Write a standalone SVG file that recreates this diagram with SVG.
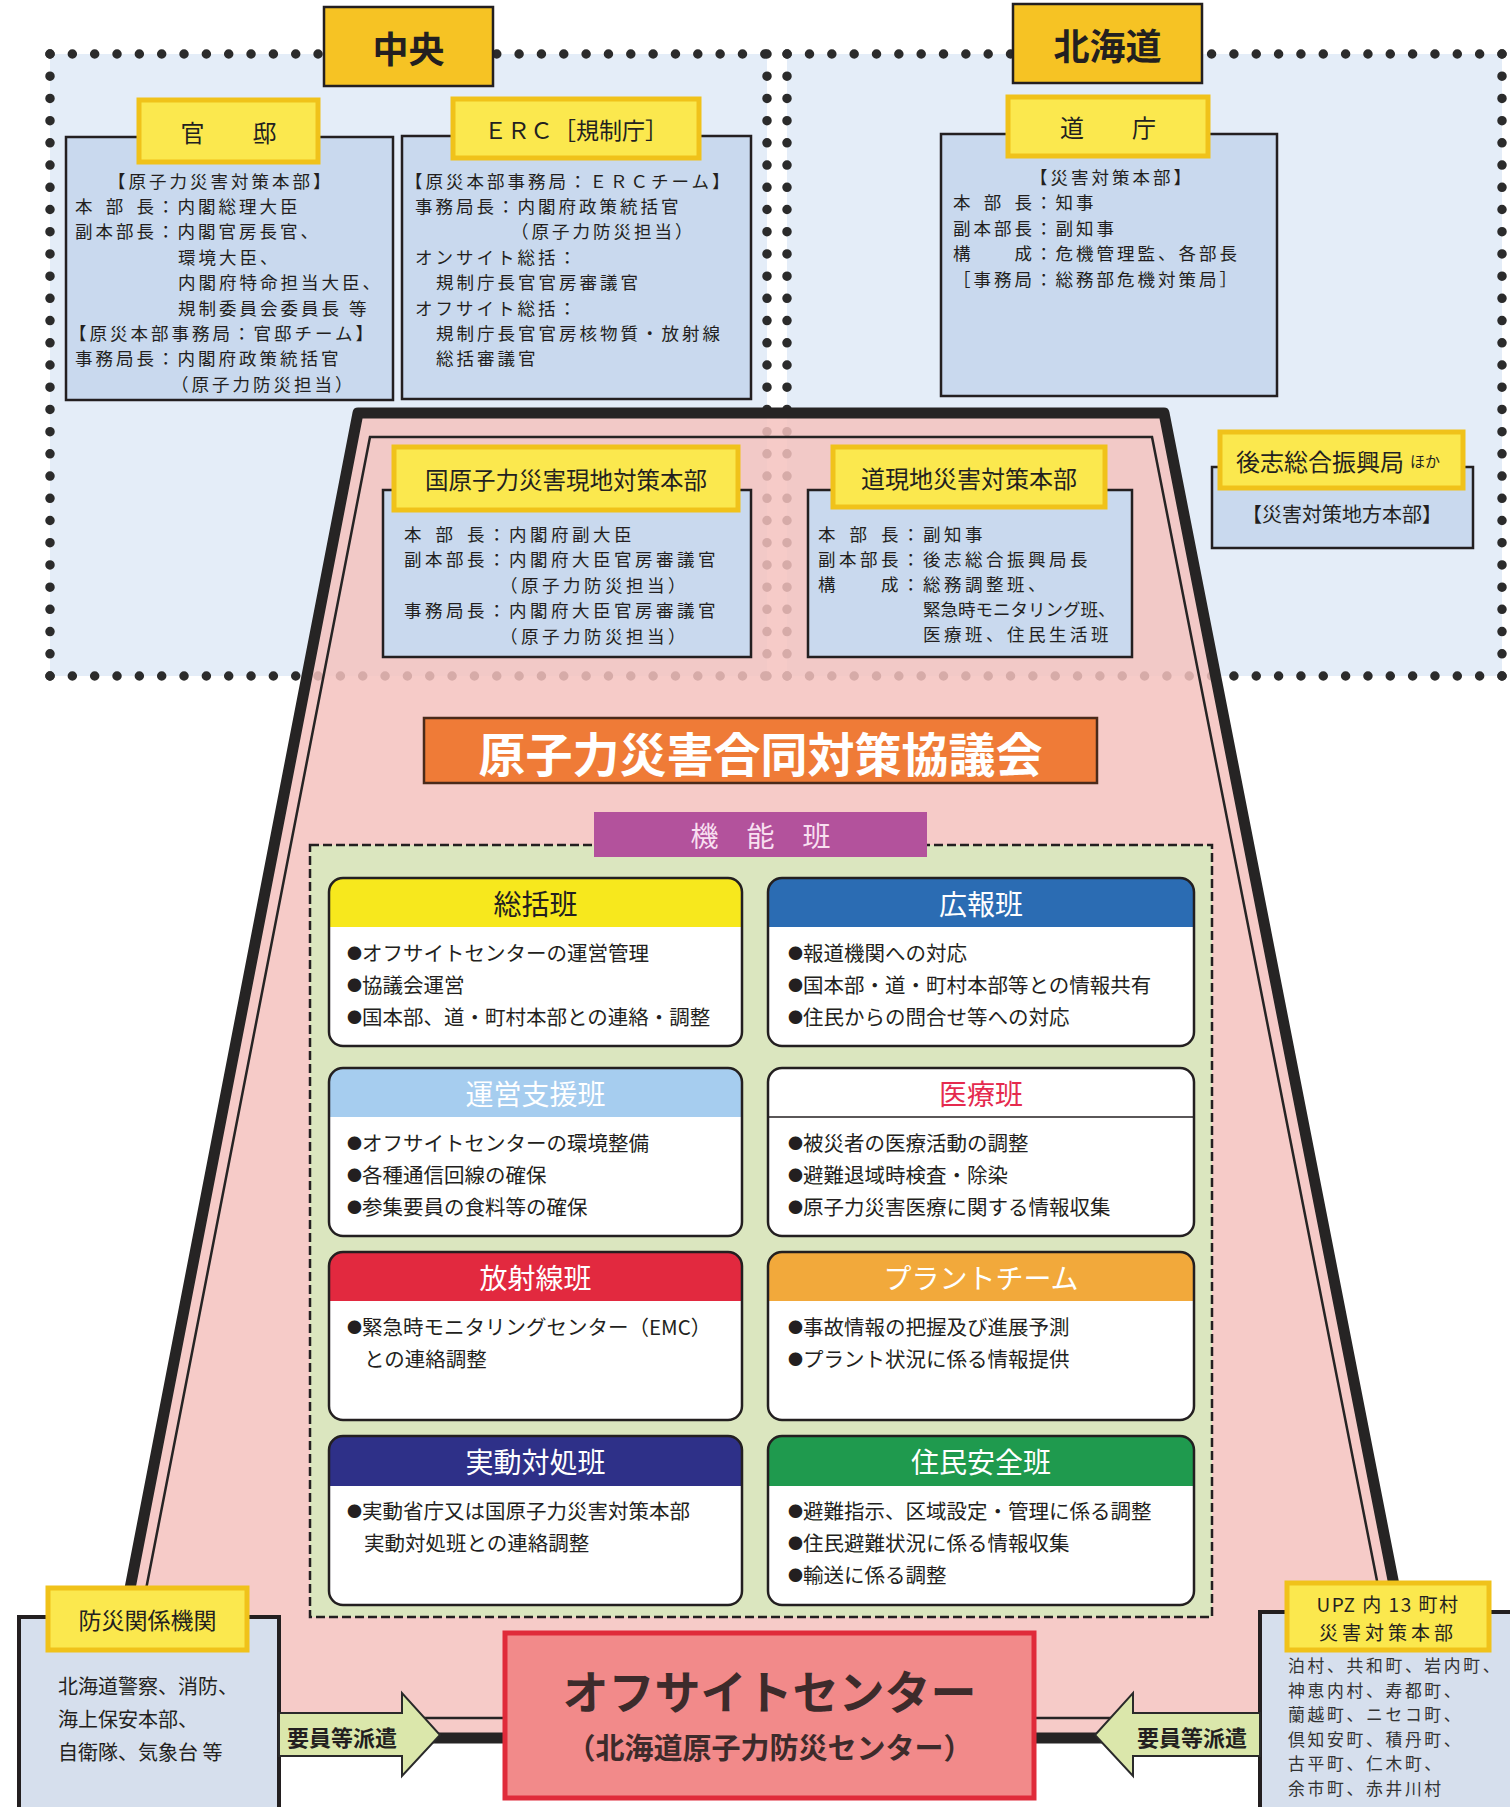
<svg xmlns="http://www.w3.org/2000/svg" width="1510" height="1807" viewBox="0 0 1510 1807">
<style>
text{font-family:"Noto Sans CJK JP","Noto Sans",sans-serif;fill:#231f20;dominant-baseline:central}
.c{text-anchor:middle}
.s1{font-size:17.5px;letter-spacing:3px}
.s2{font-size:17.5px;letter-spacing:3.5px}
.s3{font-size:16.8px;letter-spacing:2.7px;fill:#333}
.dot{stroke:#2b2b2b;stroke-width:9.5;stroke-linecap:round;fill:none}
.lbl{fill:#fbe84e;stroke:#f0c21a;stroke-width:5}
.bx{fill:#c9d9ee;stroke:#231f20;stroke-width:2.5}
.bx2{fill:#d6dfed;stroke:#231f20;stroke-width:4}
.big{fill:#f6c324;stroke:#231f20;stroke-width:2.5}
.card{fill:#fff}
.cardo{fill:none;stroke:#231f20;stroke-width:2.5}
.ht{font-size:28px;text-anchor:middle;fill:#fff}
.bt{font-size:20.5px}
.bu{font-size:15px}
.arrow{fill:#dbe7ab;stroke:#2a2a2a;stroke-width:2}
.at{font-size:22px;font-weight:700;text-anchor:middle}
</style>

<g id="regions">
<rect x="50" y="54" width="717" height="622" fill="#e4edf8"/>
<rect x="787" y="54" width="715" height="622" fill="#e4edf8"/>
<line class="dot" x1="50" y1="54" x2="1502" y2="54" stroke-dasharray="0 22.338"/>
<line class="dot" x1="50" y1="676" x2="1502" y2="676" stroke-dasharray="0 22.338"/>
<line class="dot" x1="50" y1="54" x2="50" y2="676" stroke-dasharray="0 22.214"/>
<line class="dot" x1="767" y1="54" x2="767" y2="676" stroke-dasharray="0 22.214"/>
<line class="dot" x1="787" y1="54" x2="787" y2="676" stroke-dasharray="0 22.214"/>
<line class="dot" x1="1502" y1="54" x2="1502" y2="676" stroke-dasharray="0 22.214"/>
</g>

<g id="trapezoid">
<path d="M358 413 L1164 413 L1424 1738 L101 1738 Z" fill="#f4c2be" fill-opacity="0.85"/>
<path d="M358 413 L1164 413 L1424 1738 L101 1738 Z" fill="none" stroke="#262424" stroke-width="11" stroke-linejoin="round"/>
<path d="M370 437 L1152 437 L1404 1718 L121 1718 Z" fill="none" stroke="#262424" stroke-width="2.5"/>
</g>

<g id="chuo">
<rect class="big" x="324" y="7" width="169" height="79"/>
<text class="c" x="408.5" y="46.5" font-size="36" font-weight="700">中央</text>
</g>

<g id="hokkaido">
<rect class="big" x="1013" y="4" width="189" height="79"/>
<text class="c" x="1107.5" y="43.5" font-size="36" font-weight="700">北海道</text>
</g>

<g id="kantei">
<rect class="bx" x="66" y="137" width="327" height="263"/>
<rect class="lbl" x="139" y="100" width="179" height="62"/>
<text class="c" x="228.5" y="131" font-size="24">官　　邸</text>
<text class="s1" x="108" y="180">【原子力災害対策本部】</text>
<text class="s1" x="75 95.5 105.75 126.25 136.5 157" y="205.4">本 部 長：内閣総理大臣</text>
<text class="s1" x="75" y="230.8">副本部長：内閣官房長官、</text>
<text class="s1" x="178" y="256.2">環境大臣、</text>
<text class="s1" x="178" y="281.6">内閣府特命担当大臣、</text>
<text class="s1" x="178" y="307">規制委員会委員長 等</text>
<text class="s1" x="69" y="332.4">【原災本部事務局：官邸チーム】</text>
<text class="s1" x="75" y="357.8">事務局長：内閣府政策統括官</text>
<text class="s1" x="171" y="383.2">（原子力防災担当）</text>
</g>

<g id="erc">
<rect class="bx" x="402" y="136" width="349" height="263"/>
<rect class="lbl" x="453" y="99" width="246" height="59"/>
<text class="c" x="576" y="128.5" font-size="23">ＥＲＣ［規制庁］</text>
<text class="s1" x="405" y="180">【原災本部事務局：ＥＲＣチーム】</text>
<text class="s1" x="415" y="205.4">事務局長：内閣府政策統括官</text>
<text class="s1" x="511" y="230.8">（原子力防災担当）</text>
<text class="s1" x="415" y="256.2">オンサイト総括：</text>
<text class="s1" x="436" y="281.6">規制庁長官官房審議官</text>
<text class="s1" x="415" y="307">オフサイト総括：</text>
<text class="s1" x="436" y="332.4">規制庁長官官房核物質・放射線</text>
<text class="s1" x="436" y="357.8">総括審議官</text>
</g>

<g id="docho">
<rect class="bx" x="941" y="134" width="336" height="262"/>
<rect class="lbl" x="1008" y="97" width="200" height="59"/>
<text class="c" x="1108" y="126.5" font-size="24">道　　庁</text>
<text class="s1 c" x="1112" y="176">【災害対策本部】</text>
<text class="s1" x="953 973.5 983.75 1004.25 1014.5 1035" y="201.5">本 部 長：知事</text>
<text class="s1" x="953" y="227">副本部長：副知事</text>
<text class="s1" x="953" y="252.5">構　　成：危機管理監、各部長</text>
<text class="s1" x="953" y="278">［事務局：総務部危機対策局］</text>
</g>

<g id="shiribeshi">
<rect class="bx" x="1212" y="467" width="261" height="81"/>
<rect class="lbl" x="1220" y="432" width="243" height="56"/>
<text x="1236" y="460" font-size="24">後志総合振興局<tspan font-size="15" dx="6">ほか</tspan></text>
<text class="c" x="1342" y="513" font-size="20">【災害対策地方本部】</text>
</g>

<g id="kuni-genchi">
<rect class="bx" x="383" y="490" width="368" height="167"/>
<rect class="lbl" x="394" y="447" width="344" height="63"/>
<text class="c" x="566" y="478.5" font-size="23.5">国原子力災害現地対策本部</text>
<text class="s2" x="404 425 435.5 456.5 467 488" y="533">本 部 長：内閣府副大臣</text>
<text class="s2" x="404" y="558.5">副本部長：内閣府大臣官房審議官</text>
<text class="s2" x="500" y="584">（原子力防災担当）</text>
<text class="s2" x="404" y="609.5">事務局長：内閣府大臣官房審議官</text>
<text class="s2" x="500" y="635">（原子力防災担当）</text>
</g>

<g id="do-genchi">
<rect class="bx" x="808" y="490" width="324" height="167"/>
<rect class="lbl" x="833" y="447" width="272" height="60"/>
<text class="c" x="969" y="477" font-size="24">道現地災害対策本部</text>
<text class="s2" x="818 839 849.5 870.5 881 902" y="533">本 部 長：副知事</text>
<text class="s2" x="818" y="558">副本部長：後志総合振興局長</text>
<text class="s2" x="818" y="583">構　　成：総務調整班、</text>
<text x="923" y="608" font-size="17.5">緊急時モニタリング班、</text>
<text class="s2" x="923" y="633">医療班、住民生活班</text>
</g>

<g id="kyogikai">
<rect x="424" y="718" width="673" height="65" fill="#ef7b37" stroke="#4a2a1a" stroke-width="2.5"/>
<text class="c" x="760.5" y="751" font-size="47" font-weight="700" style="fill:#fff">原子力災害合同対策協議会</text>
</g>

<g id="kinohan">
<rect x="310" y="845" width="902" height="772" fill="#dbe6bf" stroke="#231f20" stroke-width="2.5" stroke-dasharray="9 4"/>
<rect x="594" y="812" width="333" height="45" fill="#b3529c"/>
<text class="c" x="760.5" y="835" font-size="28" style="fill:#f8dff0">機　能　班</text>
</g>

<g id="soukatsu">
<rect class="card" x="329" y="878" width="413" height="168" rx="14"/>
<path d="M329 927V892Q329 878 343 878H728Q742 878 742 892V927Z" fill="#f7e81d"/>
<rect class="cardo" x="329" y="878" width="413" height="168" rx="14"/>
<text class="ht" x="535.5" y="903" style="fill:#231f20">総括班</text>
<text class="bt" x="347" y="952"><tspan class="bu">●</tspan>オフサイトセンターの運営管理</text>
<text class="bt" x="347" y="984"><tspan class="bu">●</tspan>協議会運営</text>
<text class="bt" x="347" y="1016"><tspan class="bu">●</tspan>国本部、道・町村本部との連絡・調整</text>
</g>

<g id="kouhou">
<rect class="card" x="768" y="878" width="426" height="168" rx="14"/>
<path d="M768 927V892Q768 878 782 878H1180Q1194 878 1194 892V927Z" fill="#2b6cb3"/>
<rect class="cardo" x="768" y="878" width="426" height="168" rx="14"/>
<text class="ht" x="981" y="903">広報班</text>
<text class="bt" x="788" y="952"><tspan class="bu">●</tspan>報道機関への対応</text>
<text class="bt" x="788" y="984"><tspan class="bu">●</tspan>国本部・道・町村本部等との情報共有</text>
<text class="bt" x="788" y="1016"><tspan class="bu">●</tspan>住民からの問合せ等への対応</text>
</g>

<g id="unei">
<rect class="card" x="329" y="1068" width="413" height="168" rx="14"/>
<path d="M329 1117V1082Q329 1068 343 1068H728Q742 1068 742 1082V1117Z" fill="#a6cdef"/>
<rect class="cardo" x="329" y="1068" width="413" height="168" rx="14"/>
<text class="ht" x="535.5" y="1093">運営支援班</text>
<text class="bt" x="347" y="1142"><tspan class="bu">●</tspan>オフサイトセンターの環境整備</text>
<text class="bt" x="347" y="1174"><tspan class="bu">●</tspan>各種通信回線の確保</text>
<text class="bt" x="347" y="1206"><tspan class="bu">●</tspan>参集要員の食料等の確保</text>
</g>

<g id="iryo">
<rect class="card" x="768" y="1068" width="426" height="168" rx="14"/>
<line x1="768" y1="1117" x2="1194" y2="1117" stroke="#231f20" stroke-width="1.5"/>
<rect class="cardo" x="768" y="1068" width="426" height="168" rx="14"/>
<text class="ht" x="981" y="1093" style="fill:#e52a4e">医療班</text>
<text class="bt" x="788" y="1142"><tspan class="bu">●</tspan>被災者の医療活動の調整</text>
<text class="bt" x="788" y="1174"><tspan class="bu">●</tspan>避難退域時検査・除染</text>
<text class="bt" x="788" y="1206"><tspan class="bu">●</tspan>原子力災害医療に関する情報収集</text>
</g>

<g id="houshasen">
<rect class="card" x="329" y="1252" width="413" height="168" rx="14"/>
<path d="M329 1301V1266Q329 1252 343 1252H728Q742 1252 742 1266V1301Z" fill="#e2293f"/>
<rect class="cardo" x="329" y="1252" width="413" height="168" rx="14"/>
<text class="ht" x="535.5" y="1277">放射線班</text>
<text class="bt" x="347" y="1326"><tspan class="bu">●</tspan>緊急時モニタリングセンター（EMC）</text>
<text class="bt" x="364" y="1358">との連絡調整</text>
</g>

<g id="plant">
<rect class="card" x="768" y="1252" width="426" height="168" rx="14"/>
<path d="M768 1301V1266Q768 1252 782 1252H1180Q1194 1252 1194 1266V1301Z" fill="#f2a93b"/>
<rect class="cardo" x="768" y="1252" width="426" height="168" rx="14"/>
<text class="ht" x="981" y="1277">プラントチーム</text>
<text class="bt" x="788" y="1326"><tspan class="bu">●</tspan>事故情報の把握及び進展予測</text>
<text class="bt" x="788" y="1358"><tspan class="bu">●</tspan>プラント状況に係る情報提供</text>
</g>

<g id="jitsudou">
<rect class="card" x="329" y="1436" width="413" height="169" rx="14"/>
<path d="M329 1486V1450Q329 1436 343 1436H728Q742 1436 742 1450V1486Z" fill="#2e3088"/>
<rect class="cardo" x="329" y="1436" width="413" height="169" rx="14"/>
<text class="ht" x="535.5" y="1461">実動対処班</text>
<text class="bt" x="347" y="1510"><tspan class="bu">●</tspan>実動省庁又は国原子力災害対策本部</text>
<text class="bt" x="364" y="1542">実動対処班との連絡調整</text>
</g>

<g id="jumin">
<rect class="card" x="768" y="1436" width="426" height="169" rx="14"/>
<path d="M768 1486V1450Q768 1436 782 1436H1180Q1194 1436 1194 1450V1486Z" fill="#1f9a4e"/>
<rect class="cardo" x="768" y="1436" width="426" height="169" rx="14"/>
<text class="ht" x="981" y="1461">住民安全班</text>
<text class="bt" x="788" y="1510"><tspan class="bu">●</tspan>避難指示、区域設定・管理に係る調整</text>
<text class="bt" x="788" y="1542"><tspan class="bu">●</tspan>住民避難状況に係る情報収集</text>
<text class="bt" x="788" y="1574"><tspan class="bu">●</tspan>輸送に係る調整</text>
</g>

<g id="bousai">
<rect class="bx2" x="19" y="1617" width="260" height="200"/>
<rect class="lbl" x="48" y="1588" width="199" height="62"/>
<text class="c" x="147.5" y="1619" font-size="23">防災関係機関</text>
<text x="58" y="1685" font-size="20">北海道警察、消防、</text>
<text x="58" y="1718" font-size="20">海上保安本部、</text>
<text x="58" y="1751" font-size="20">自衛隊、気象台 等</text>
</g>

<g id="upz">
<rect class="bx2" x="1260" y="1612" width="260" height="205"/>
<rect class="lbl" x="1287" y="1583" width="202" height="67"/>
<text class="c" x="1388" y="1603" font-size="19" letter-spacing="1.5">UPZ 内 13 町村</text>
<text class="c" x="1388" y="1631" font-size="19" letter-spacing="4">災害対策本部</text>
<text class="s3" x="1288" y="1665">泊村、共和町、岩内町、</text>
<text class="s3" x="1288" y="1689.5">神恵内村、寿都町、</text>
<text class="s3" x="1288" y="1714">蘭越町、ニセコ町、</text>
<text class="s3" x="1288" y="1738.5">倶知安町、積丹町、</text>
<text class="s3" x="1288" y="1763">古平町、仁木町、</text>
<text class="s3" x="1288" y="1787.5">余市町、赤井川村</text>
</g>

<g id="connectors">
<polygon class="arrow" points="279,1713 402,1713 402,1693 440,1735 402,1776 402,1756 279,1756"/>
<text class="at" x="342" y="1736">要員等派遣</text>
<polygon class="arrow" points="1260,1713 1133,1713 1133,1693 1095,1735 1133,1776 1133,1756 1260,1756"/>
<text class="at" x="1192" y="1736">要員等派遣</text>
</g>

<g id="offsite">
<rect x="505" y="1633" width="529" height="165" fill="#f28a8a" stroke="#e02b3a" stroke-width="5"/>
<text class="c" x="769.5" y="1689" font-size="46" font-weight="700" style="fill:#3d2b2b">オフサイトセンター</text>
<text class="c" x="769.5" y="1746" font-size="29" font-weight="700" style="fill:#3d2b2b">（北海道原子力防災センター）</text>
</g>
</svg>
